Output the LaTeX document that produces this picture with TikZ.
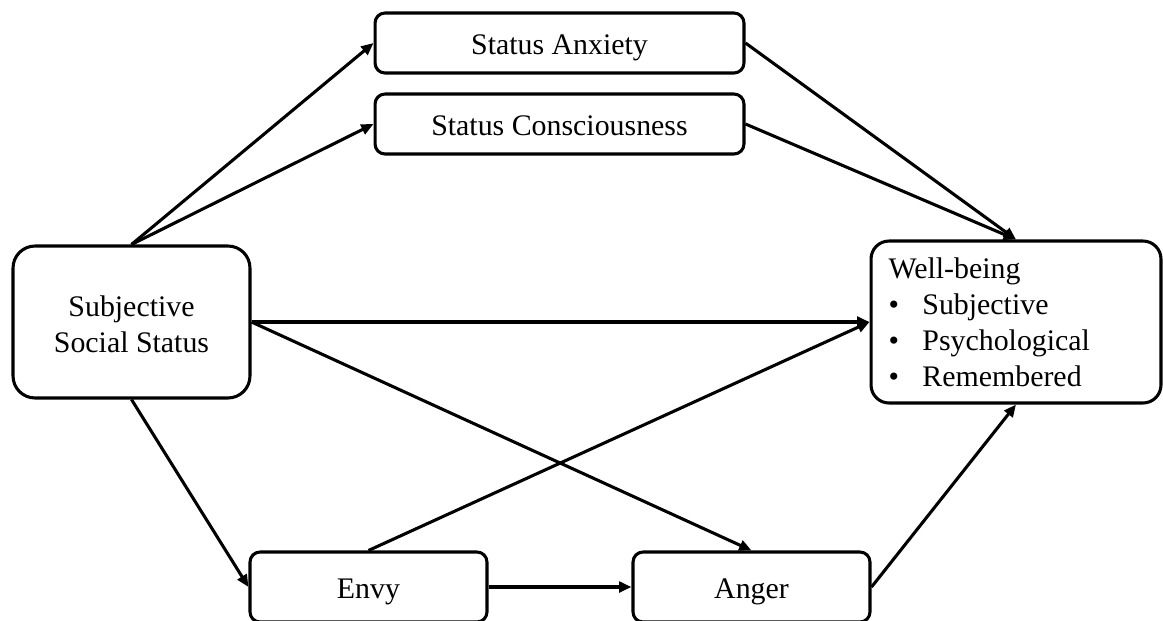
\documentclass[tikz,border=0pt]{standalone}
\usepackage{fontspec}
\setmainfont{Liberation Serif}
\usetikzlibrary{arrows.meta}
\begin{document}
\begin{tikzpicture}[x=0.02cm,y=-0.02cm,
  every node/.style={font=\fontsize{17pt}{20.5pt}\selectfont},
  box/.style={draw=black, line width=1.75pt, fill=white, rectangle, inner sep=0pt, align=center},
  oneline/.style={text height=12.6pt, text depth=0pt},
  topbox/.style={box, oneline, rounded corners=0.2cm, minimum width=7.38cm, minimum height=1.2cm},
  botbox/.style={box, oneline, rounded corners=0.2cm, minimum width=4.74cm, minimum height=1.4cm},
  arr/.style={line width=1.75pt, -{Triangle[length=7pt,width=6pt]}}
]
\useasboundingbox (0,0) rectangle (1163,620);
\node[topbox] (sa) at (559.5,43) {Status Anxiety};
\node[topbox] (sc) at (559.5,124) {Status Consciousness};
\node[box, rounded corners=0.44cm, minimum width=4.74cm, minimum height=3.04cm] (sss) at (131.5,322)
  {\raisebox{-3pt}[\height][\depth]{\begin{tabular}{@{}c@{}}Subjective\\Social Status\end{tabular}}};
\node[box, rounded corners=0.36cm, minimum width=5.8cm, minimum height=3.24cm, align=left, text width=5.1cm] (wb) at (1016,322)
  {Well-being\\\makebox[19.3pt][l]{\textbullet}Subjective\\\makebox[19.3pt][l]{\textbullet}Psychological\\\makebox[19.3pt][l]{\textbullet}Remembered};
\node[botbox] (envy) at (368.5,587) {Envy};
\node[botbox] (anger) at (751.5,587) {Anger};

\draw[arr] (sss.north) -- (sa.west);
\draw[arr] (sss.north) -- (sc.west);
\draw[arr] (sa.east) -- (wb.north);
\draw[arr] (sc.east) -- (wb.north);
\draw[arr] (sss.east) -- (wb.west);
\draw[arr] (sss.east) -- (anger.north);
\draw[arr] (sss.south) -- (envy.west);
\draw[arr] (envy.north) -- (wb.west);
\draw[arr] (envy.east) -- (anger.west);
\draw[arr] (anger.east) -- (wb.south);
\end{tikzpicture}
\end{document}
